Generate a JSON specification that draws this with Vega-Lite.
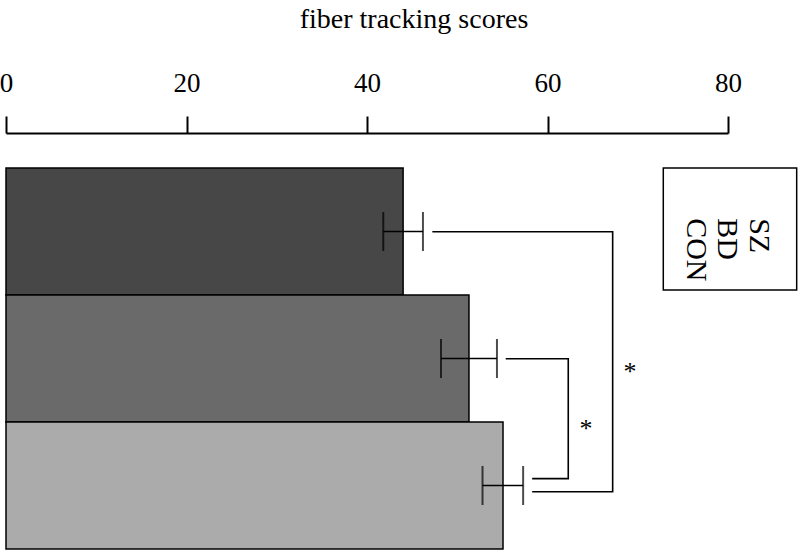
{
  "$schema": "https://vega.github.io/schema/vega-lite/v6.json",
  "autosize": "none",
  "width": 722,
  "height": 381,
  "padding": {"left": 6, "top": 168, "right": 75, "bottom": 3},
  "background": "white",
  "config": {"view": {"stroke": null}, "font": "Liberation Serif"},
  "datasets": {
    "groups": [
      {"group": "SZ", "mean": 44.0, "lo": 41.8, "hi": 46.2},
      {"group": "BD", "mean": 51.3, "lo": 48.2, "hi": 54.4},
      {"group": "CON", "mean": 55.07, "lo": 52.8, "hi": 57.3}
    ],
    "brackets": [
      {"bracket": "SZ-CON", "step": 1, "bx": 47.24, "by": 0.502},
      {"bracket": "SZ-CON", "step": 2, "bx": 67.22, "by": 0.502},
      {"bracket": "SZ-CON", "step": 3, "bx": 67.22, "by": 2.549},
      {"bracket": "SZ-CON", "step": 4, "bx": 58.3, "by": 2.549},
      {"bracket": "BD-CON", "step": 1, "bx": 55.37, "by": 1.502},
      {"bracket": "BD-CON", "step": 2, "bx": 62.3, "by": 1.502},
      {"bracket": "BD-CON", "step": 3, "bx": 62.3, "by": 2.446},
      {"bracket": "BD-CON", "step": 4, "bx": 58.3, "by": 2.446}
    ],
    "stars": [
      {"label": "*", "sx": 69.14, "sy": 1.61},
      {"label": "*", "sx": 64.27, "sy": 2.055}
    ]
  },
  "resolve": {"scale": {"x": "independent", "y": "independent"}},
  "layer": [
    {
      "data": {"name": "groups"},
      "mark": {"type": "bar", "stroke": "black", "strokeWidth": 1.5},
      "encoding": {
        "y": {"field": "group", "type": "nominal", "sort": ["SZ", "BD", "CON"],
              "scale": {"paddingInner": 0, "paddingOuter": 0}, "axis": null},
        "x": {"field": "mean", "type": "quantitative",
              "scale": {"domain": [0, 80], "nice": false, "zero": true},
              "axis": {
                "orient": "top", "values": [0, 20, 40, 60, 80], "offset": 35,
                "grid": false, "labelFlush": false,
                "labelFont": "Liberation Serif", "labelFontSize": 27, "labelColor": "black",
                "labelPadding": 19, "tickSize": 17, "tickColor": "black", "tickWidth": 2,
                "domainColor": "black", "domainWidth": 2,
                "title": "fiber tracking scores", "titleFont": "Liberation Serif",
                "titleFontSize": 28, "titleFontWeight": "normal", "titleColor": "black",
                "titleX": 407.5, "titleY": -106, "titleBaseline": "alphabetic", "titleAlign": "center"
              }},
        "fill": {"field": "group", "type": "nominal",
                 "scale": {"domain": ["SZ", "BD", "CON"], "range": ["#474747", "#6a6a6a", "#ababab"]},
                 "legend": null}
      }
    },
    {
      "data": {"name": "groups"},
      "mark": {"type": "rule", "color": "black", "strokeWidth": 1.6},
      "encoding": {
        "y": {"field": "group", "type": "nominal", "sort": ["SZ", "BD", "CON"], "bandPosition": 0.5,
              "scale": {"paddingInner": 0, "paddingOuter": 0}, "axis": null},
        "x": {"field": "lo", "type": "quantitative", "scale": {"domain": [0, 80], "nice": false}, "axis": null},
        "x2": {"field": "hi"}
      }
    },
    {
      "data": {"name": "groups"},
      "mark": {"type": "tick", "orient": "vertical", "color": "black", "size": 39, "thickness": 2},
      "encoding": {
        "y": {"field": "group", "type": "nominal", "sort": ["SZ", "BD", "CON"],
              "scale": {"paddingInner": 0, "paddingOuter": 0}, "axis": null},
        "x": {"field": "lo", "type": "quantitative", "scale": {"domain": [0, 80], "nice": false}, "axis": null}
      }
    },
    {
      "data": {"name": "groups"},
      "mark": {"type": "tick", "orient": "vertical", "color": "black", "size": 39, "thickness": 2},
      "encoding": {
        "y": {"field": "group", "type": "nominal", "sort": ["SZ", "BD", "CON"],
              "scale": {"paddingInner": 0, "paddingOuter": 0}, "axis": null},
        "x": {"field": "hi", "type": "quantitative", "scale": {"domain": [0, 80], "nice": false}, "axis": null}
      }
    },
    {
      "data": {"name": "brackets"},
      "mark": {"type": "line", "color": "black", "strokeWidth": 1.6, "interpolate": "linear"},
      "encoding": {
        "x": {"field": "bx", "type": "quantitative", "scale": {"domain": [0, 80], "nice": false}, "axis": null},
        "y": {"field": "by", "type": "quantitative", "scale": {"domain": [0, 3], "nice": false, "reverse": true}, "axis": null},
        "detail": {"field": "bracket", "type": "nominal"},
        "order": {"field": "step", "type": "quantitative"}
      }
    },
    {
      "data": {"name": "stars"},
      "mark": {"type": "text", "font": "Liberation Serif", "fontSize": 26, "color": "black", "align": "center", "baseline": "middle"},
      "encoding": {
        "x": {"field": "sx", "type": "quantitative", "scale": {"domain": [0, 80], "nice": false}, "axis": null},
        "y": {"field": "sy", "type": "quantitative", "scale": {"domain": [0, 3], "nice": false, "reverse": true}, "axis": null},
        "text": {"field": "label"}
      }
    },
    {
      "data": {"values": [{}]},
      "mark": {"type": "rect", "fill": "white", "stroke": "black", "strokeWidth": 1.5},
      "encoding": {
        "x": {"datum": 72.83, "type": "quantitative", "scale": {"domain": [0, 80], "nice": false}, "axis": null},
        "x2": {"datum": 87.61},
        "y": {"datum": 0.0, "type": "quantitative", "scale": {"domain": [0, 3], "nice": false, "reverse": true}, "axis": null},
        "y2": {"datum": 0.96}
      }
    },
    {
      "data": {"name": "groups"},
      "mark": {"type": "text", "font": "Liberation Serif", "fontSize": 30, "color": "black", "angle": 90, "align": "left", "baseline": "middle"},
      "encoding": {
        "x": {"field": "group", "type": "nominal",
              "scale": {"type": "point", "domain": ["CON", "BD", "SZ"], "range": [689.7, 753.2], "padding": 0}, "axis": null},
        "y": {"datum": 0.395, "type": "quantitative", "scale": {"domain": [0, 3], "nice": false, "reverse": true}, "axis": null},
        "text": {"field": "group"}
      }
    }
  ]
}
